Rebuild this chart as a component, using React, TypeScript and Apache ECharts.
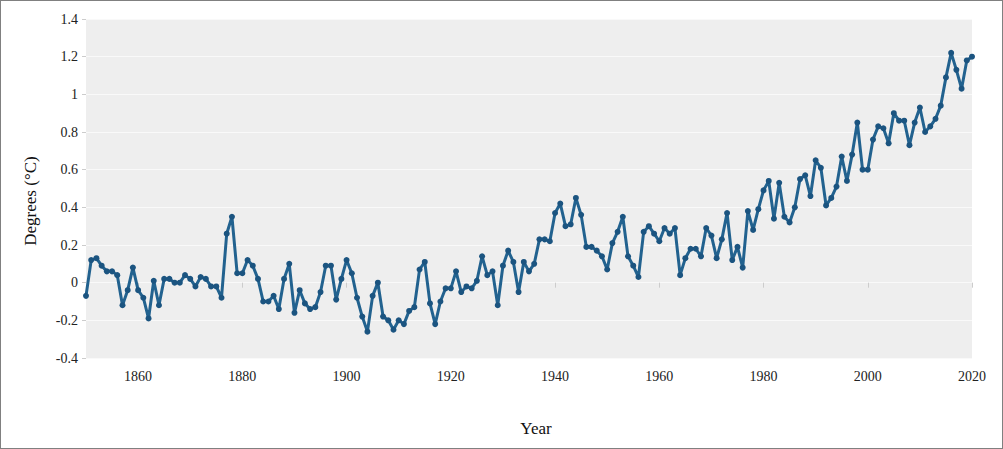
import React, { useEffect, useRef } from "react";
import * as echarts from "echarts";

const firstYear = 1850;
const values1850to1899 = [
  -0.07, 0.12, 0.13, 0.09, 0.06, 0.06, 0.04, -0.12, -0.04, 0.08,
  -0.04, -0.08, -0.19, 0.01, -0.12, 0.02, 0.02, 0.0, 0.0, 0.04,
  0.02, -0.02, 0.03, 0.02, -0.02, -0.02, -0.08, 0.26, 0.35, 0.05,
  0.05, 0.12, 0.09, 0.02, -0.1, -0.1, -0.07, -0.14, 0.02, 0.1,
  -0.16, -0.04, -0.11, -0.14, -0.13, -0.05, 0.09, 0.09, -0.09, 0.02,
];
const values1900to1949 = [
  0.12, 0.05, -0.08, -0.18, -0.26, -0.07, 0.0, -0.18, -0.2, -0.25,
  -0.2, -0.22, -0.15, -0.13, 0.07, 0.11, -0.11, -0.22, -0.1, -0.03,
  -0.03, 0.06, -0.05, -0.02, -0.03, 0.01, 0.14, 0.04, 0.06, -0.12,
  0.09, 0.17, 0.11, -0.05, 0.11, 0.06, 0.1, 0.23, 0.23, 0.22,
  0.37, 0.42, 0.3, 0.31, 0.45, 0.36, 0.19, 0.19, 0.17, 0.14,
];
const values1950to1999 = [
  0.07, 0.21, 0.27, 0.35, 0.14, 0.09, 0.03, 0.27, 0.3, 0.26,
  0.22, 0.29, 0.26, 0.29, 0.04, 0.13, 0.18, 0.18, 0.14, 0.29,
  0.25, 0.13, 0.23, 0.37, 0.12, 0.19, 0.08, 0.38, 0.28, 0.39,
  0.49, 0.54, 0.34, 0.53, 0.35, 0.32, 0.4, 0.55, 0.57, 0.46,
  0.65, 0.61, 0.41, 0.45, 0.51, 0.67, 0.54, 0.68, 0.85, 0.6,
];
const values2000to2020 = [
  0.6, 0.76, 0.83, 0.82, 0.74, 0.9, 0.86, 0.86, 0.73, 0.85,
  0.93, 0.8, 0.83, 0.87, 0.94, 1.09, 1.22, 1.13, 1.03, 1.18,
  1.2,
];
const xTickYears = [1860, 1880, 1900, 1920, 1940, 1960, 1980, 2000, 2020];
const yMin = -0.4;
const yMax = 1.4;
const yStep = 0.2;

const serif = "'Liberation Serif', 'Times New Roman', serif";

export default function App() {
  const ref = useRef<HTMLDivElement>(null);
  useEffect(() => {
    const chart = echarts.init(ref.current!, null, { renderer: "svg" });
    const values = [
      ...values1850to1899,
      ...values1900to1949,
      ...values1950to1999,
      ...values2000to2020,
    ];
    const data = values.map((v, i) => [firstYear + i, v]);
    chart.setOption({
      animation: false,
      backgroundColor: "#ffffff",
      grid: {
        left: 86,
        top: 19,
        width: 886,
        height: 339,
        show: true,
        backgroundColor: "#eeeeee",
        borderWidth: 0,
      },
      xAxis: {
        type: "value",
        min: 1850,
        max: 2020,
        axisLine: { show: false },
        axisTick: {
          show: true,
          customValues: xTickYears,
          length: 5,
          lineStyle: { color: "#cccccc" },
        },
        axisLabel: {
          customValues: xTickYears,
          formatter: (v: number) => String(v),
          margin: 11,
          color: "#222222",
          fontFamily: serif,
          fontSize: 14,
        },
        splitLine: { show: false },
      },
      yAxis: {
        type: "value",
        min: yMin,
        max: yMax,
        interval: yStep,
        axisLine: { show: false },
        axisTick: { show: true, length: 4, lineStyle: { color: "#cccccc" } },
        axisLabel: {
          margin: 8,
          color: "#222222",
          fontFamily: serif,
          fontSize: 14,
        },
        splitLine: { show: true, lineStyle: { color: "#f9f9f9", width: 1 } },
      },
      series: [
        {
          type: "line",
          data,
          symbol: "circle",
          symbolSize: 6,
          lineStyle: { color: "#22628f", width: 3 },
          itemStyle: { color: "#1b5480" },
        },
      ],
      graphic: [
        {
          type: "text",
          x: 30,
          y: 201,
          rotation: Math.PI / 2,
          style: {
            text: "Degrees (°C)",
            font: `17px ${serif}`,
            fill: "#111111",
            textAlign: "center",
            textVerticalAlign: "middle",
          },
        },
        {
          type: "text",
          x: 536,
          y: 428,
          style: {
            text: "Year",
            font: `17px ${serif}`,
            fill: "#111111",
            textAlign: "center",
            textVerticalAlign: "middle",
          },
        },
      ],
    });
    return () => chart.dispose();
  }, []);
  return (
    <div style={{ position: "fixed", left: 0, top: 0, width: 1003, height: 449 }}>
      <div ref={ref} style={{ width: 1003, height: 449 }} />
      <div
        style={{
          position: "absolute",
          left: 0,
          top: 0,
          width: 1003,
          height: 449,
          border: "1px solid #808080",
          boxSizing: "border-box",
          pointerEvents: "none",
        }}
      />
    </div>
  );
}
